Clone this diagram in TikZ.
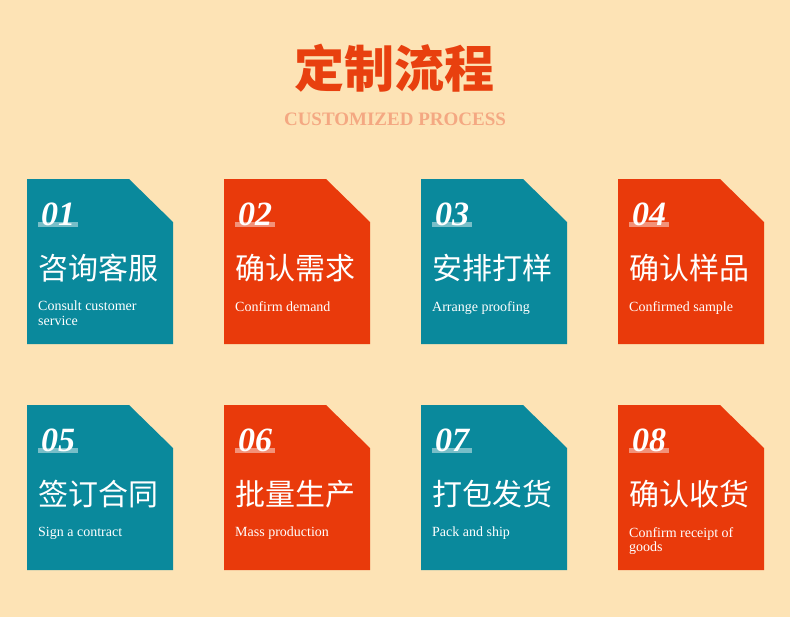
\documentclass[tikz,border=0pt]{standalone}
\usepackage{fontspec}
\setmainfont{Liberation Serif}
\newfontfamily\cjk{Noto Sans CJK SC}
\definecolor{bg}{HTML}{FDE3B5}
\definecolor{teal}{HTML}{0A899C}
\definecolor{red}{HTML}{E93A0B}
\definecolor{titlered}{HTML}{E8400F}
\definecolor{subt}{HTML}{F4A882}
\tikzset{
  num/.style={anchor=base west, inner sep=0pt, text=white, font=\fontsize{34}{34}\selectfont\bfseries\itshape},
  cn/.style={anchor=west, inner sep=0pt, text=white, font=\cjk\fontsize{30}{30}\selectfont},
  en/.style={anchor=north west, inner sep=0pt, text=white, align=left, font=\fontsize{14}{14.5}\selectfont},
}
\newcommand{\card}[7]{% x y color num cn en name
  \begin{scope}[shift={(#1,#2)}]
    \fill[#3] (0,0) -- (102,0) -- (146,43) -- (146,165) -- (0,165) -- cycle;
    \fill[white, opacity=0.45] (11,43) rectangle (51,48);
    \node[num] (#7n) at (14,46) {#4};
    \node[cn] (#7c) at (11,89) {#5};
    \node[en] (#7e) at (11,122) {#6};
  \end{scope}
}
\begin{document}
\begin{tikzpicture}[x=1pt,y=-1pt]
\useasboundingbox (0,0) rectangle (790,616);
\fill[bg] (-2,-2) rectangle (792,618);
\node[text=titlered, font=\cjk\bfseries\fontsize{50}{50}\selectfont, inner sep=0pt] (title) at (394,68) {定制流程};
\node[text=subt, font=\fontsize{19}{19}\selectfont\bfseries, inner sep=0pt] (sub) at (395,119) {CUSTOMIZED PROCESS};
\card{27}{179}{teal}{01}{咨询客服}{Consult customer\\service}{a}
\card{224}{179}{red}{02}{确认需求}{Confirm demand}{b}
\card{421}{179}{teal}{03}{安排打样}{Arrange proofing}{c}
\card{618}{179}{red}{04}{确认样品}{Confirmed sample}{d}
\card{27}{405}{teal}{05}{签订合同}{Sign a contract}{e}
\card{224}{405}{red}{06}{批量生产}{Mass production}{f}
\card{421}{405}{teal}{07}{打包发货}{Pack and ship}{g}
\card{618}{405}{red}{08}{确认收货}{Confirm receipt of\\goods}{h}
\end{tikzpicture}
\end{document}
